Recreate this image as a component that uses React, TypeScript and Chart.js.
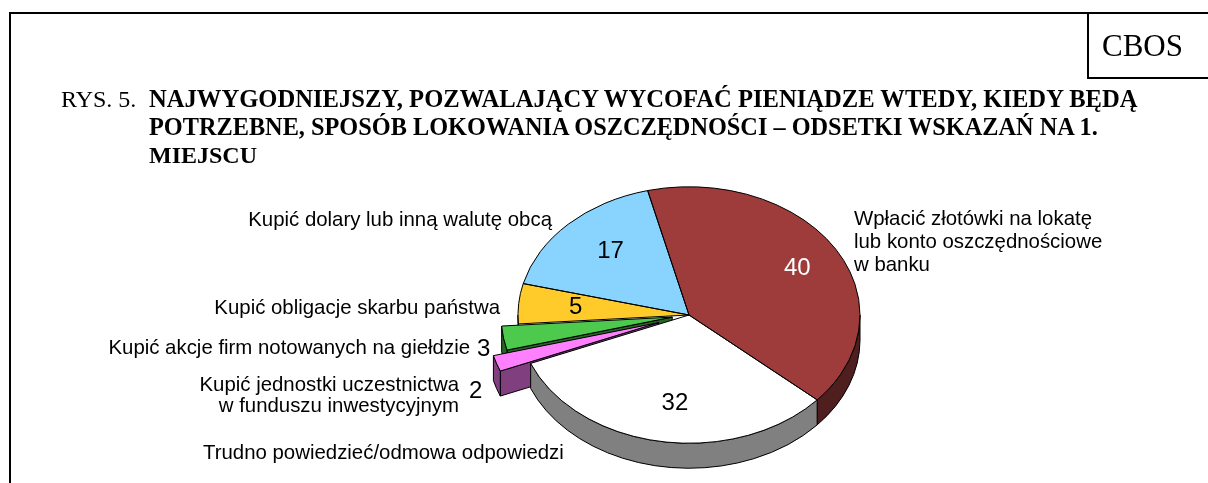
import React, { useEffect, useRef } from "react";
import { Chart, registerables } from "chart.js";

Chart.register(...registerables);

// ---------- data ----------
const CATEGORIES: string[][] = [
  ["Wpłacić złotówki na lokatę", "lub konto oszczędnościowe", "w banku"],
  ["Trudno powiedzieć/odmowa odpowiedzi"],
  ["Kupić jednostki uczestnictwa", "w funduszu inwestycyjnym"],
  ["Kupić akcje firm notowanych na giełdzie"],
  ["Kupić obligacje skarbu państwa"],
  ["Kupić dolary lub inną walutę obcą"],
];
const VALUES = [40, 32, 2, 3, 5, 17];
const TITLE_PREFIX = "RYS. 5.";
const TITLE_LINES = [
  "NAJWYGODNIEJSZY, POZWALAJĄCY WYCOFAĆ PIENIĄDZE WTEDY, KIEDY BĘDĄ",
  "POTRZEBNE, SPOSÓB LOKOWANIA OSZCZĘDNOŚCI – ODSETKI WSKAZAŃ NA 1.",
  "MIEJSCU",
];
const SOURCE = "CBOS";

// ---------- styles / layout ----------
const TOP_COLORS = ["#9E3C3B", "#FFFFFF", "#FF80FF", "#4DC94D", "#FFCB2B", "#88D4FE"];
const SIDE_COLORS = ["#4F1E1E", "#808080", "#804080", "#276527", "#806616", "#446A7F"];
const VALUE_COLORS = ["#FFFFFF", "#000000", "#000000", "#000000", "#000000", "#000000"];
const EXPLODE = [0, 0, 32, 17, 0, 0];
const TILT = 0.75;
const DEPTH = 25;
const VALUE_RADIUS = 0.7;
const VALUE_NUDGE_X = 6;
const SANS = '"Liberation Sans", Arial, sans-serif';
const SERIF = '"Liberation Serif", "Times New Roman", serif';

type LabelLayout = { x: number; y: number; align: CanvasTextAlign; lh: number; vx?: number; vy?: number };
const LABEL_LAYOUT: LabelLayout[] = [
  { x: 854, y: 219, align: "left", lh: 23 },
  { x: 203, y: 453, align: "left", lh: 22 },
  { x: 459, y: 385, align: "right", lh: 21, vx: 469, vy: 391 },
  { x: 470, y: 348, align: "right", lh: 22, vx: 477, vy: 349 },
  { x: 500, y: 308, align: "right", lh: 22 },
  { x: 552, y: 220, align: "right", lh: 22 },
];

const pie3d = {
  id: "pie3d",
  beforeDatasetsDraw(chart: any) {
    const ctx: CanvasRenderingContext2D = chart.ctx;
    const arcs = chart.getDatasetMeta(0).data as any[];
    const gs = arcs.map((el, i) => {
      const p = el.getProps(["x", "y", "startAngle", "endAngle", "outerRadius"], true);
      const mid = (p.startAngle + p.endAngle) / 2;
      const ex = EXPLODE[i] || 0;
      return {
        cx: p.x,
        cy: p.y,
        dx: Math.cos(mid) * ex,
        dy: Math.sin(mid) * ex,
        x: p.x + Math.cos(mid) * ex,
        y: p.y + Math.sin(mid) * ex,
        s: p.startAngle,
        e: p.endAngle,
        r: p.outerRadius,
        mid,
      };
    });
    if (!gs.length) return false;
    const cx = gs[0].cx;
    const cy = gs[0].cy;
    const d = DEPTH / TILT;
    const scaled = (fn: () => void) => {
      ctx.save();
      ctx.translate(cx, cy);
      ctx.scale(1, TILT);
      ctx.translate(-cx, -cy);
      fn();
      ctx.restore();
    };

    ctx.save();
    ctx.lineWidth = 1;
    ctx.strokeStyle = "#000000";
    ctx.lineJoin = "round";

    // sides, back to front
    const order = gs.map((_, i) => i).sort((a, b) => Math.sin(gs[a].mid) - Math.sin(gs[b].mid));
    for (const i of order) {
      const g = gs[i];
      const faces: any[] = [];
      if ((EXPLODE[i] || 0) > 0) {
        if (Math.cos(g.s) < 0) faces.push(["radial", g.s]);
        if (Math.cos(g.e) > 0) faces.push(["radial", g.e]);
      }
      for (let k = -1; k <= 1; k++) {
        const lo = Math.max(g.s, k * 2 * Math.PI);
        const hi = Math.min(g.e, k * 2 * Math.PI + Math.PI);
        if (hi > lo) faces.push(["band", lo, hi]);
      }
      for (const f of faces) {
        scaled(() => {
          ctx.beginPath();
          if (f[0] === "band") {
            const a = f[1];
            const b = f[2];
            ctx.arc(g.x, g.y, g.r, a, b);
            ctx.lineTo(g.x + g.r * Math.cos(b), g.y + g.r * Math.sin(b) + d);
            ctx.arc(g.x, g.y + d, g.r, b, a, true);
            ctx.closePath();
          } else {
            const t = f[1];
            ctx.moveTo(g.x, g.y);
            ctx.lineTo(g.x + g.r * Math.cos(t), g.y + g.r * Math.sin(t));
            ctx.lineTo(g.x + g.r * Math.cos(t), g.y + g.r * Math.sin(t) + d);
            ctx.lineTo(g.x, g.y + d);
            ctx.closePath();
          }
        });
        ctx.fillStyle = SIDE_COLORS[i];
        ctx.fill();
        ctx.stroke();
      }
    }

    // top faces drawn by the arc elements themselves
    arcs.forEach((el, i) => {
      scaled(() => {
        ctx.translate(gs[i].dx, gs[i].dy);
        el.draw(ctx);
      });
    });
    // outlines
    gs.forEach((g) => {
      scaled(() => {
        ctx.beginPath();
        ctx.moveTo(g.x, g.y);
        ctx.arc(g.x, g.y, g.r, g.s, g.e);
        ctx.closePath();
      });
      ctx.stroke();
    });

    // values
    ctx.font = `24px ${SANS}`;
    ctx.textBaseline = "middle";
    gs.forEach((g, i) => {
      const lay = LABEL_LAYOUT[i];
      ctx.fillStyle = VALUE_COLORS[i];
      if (lay && lay.vx !== undefined) {
        ctx.textAlign = "left";
        ctx.fillStyle = "#000000";
        ctx.fillText(String(VALUES[i]), lay.vx, lay.vy as number);
      } else {
        const px = g.x + g.r * VALUE_RADIUS * Math.cos(g.mid) + VALUE_NUDGE_X;
        const py = cy + (g.y + g.r * VALUE_RADIUS * Math.sin(g.mid) - cy) * TILT;
        ctx.textAlign = "center";
        ctx.fillText(String(VALUES[i]), px, py);
      }
    });

    // category labels
    ctx.font = `20.4px ${SANS}`;
    ctx.fillStyle = "#000000";
    CATEGORIES.forEach((lines, i) => {
      const lay = LABEL_LAYOUT[i];
      ctx.textAlign = lay.align;
      lines.forEach((ln, j) => ctx.fillText(ln, lay.x, lay.y + j * lay.lh));
    });

    ctx.restore();
    return false;
  },
};

export default function App() {
  const canvasRef = useRef<HTMLCanvasElement | null>(null);

  useEffect(() => {
    if (!canvasRef.current) return;
    const chart = new Chart(canvasRef.current, {
      type: "pie",
      data: {
        labels: CATEGORIES.map((c) => c.join(" ")),
        datasets: [
          {
            data: VALUES,
            backgroundColor: TOP_COLORS,
            borderWidth: 0,
            offset: 0,
          },
        ],
      },
      options: {
        responsive: false,
        animation: false,
        devicePixelRatio: 1,
        events: [],
        rotation: -14,
        radius: 171,
        layout: { padding: { left: 170, right: 0, top: 147, bottom: 0 } },
        plugins: {
          legend: { display: false },
          tooltip: { enabled: false },
          title: { display: false },
        },
      } as any,
      plugins: [pie3d as any],
    });
    return () => chart.destroy();
  }, []);

  const line = (s: React.CSSProperties) => (
    <div style={{ position: "absolute", background: "#000", ...s }} />
  );

  return (
    <div
      style={{
        position: "absolute",
        left: 0,
        top: 0,
        width: 1208,
        height: 483,
        background: "#fff",
        overflow: "hidden",
      }}
    >
      <canvas
        ref={canvasRef}
        width={1208}
        height={483}
        style={{ position: "absolute", left: 0, top: 0, width: 1208, height: 483 }}
      />
      {line({ left: 9, top: 12, width: 1199, height: 2 })}
      {line({ left: 9, top: 12, width: 2, height: 471 })}
      {line({ left: 1087, top: 12, width: 2, height: 67 })}
      {line({ left: 1087, top: 77, width: 121, height: 2 })}
      <div
        style={{
          position: "absolute",
          left: 1089,
          top: 14,
          width: 107,
          height: 63,
          display: "flex",
          alignItems: "center",
          justifyContent: "center",
          fontFamily: SERIF,
          fontSize: 31,
          color: "#000",
        }}
      >
        {SOURCE}
      </div>
      <div
        style={{
          position: "absolute",
          left: 61,
          top: 85,
          fontFamily: SERIF,
          fontSize: 24,
          lineHeight: "28px",
          color: "#000",
          whiteSpace: "nowrap",
        }}
      >
        <div>
          <span style={{ display: "inline-block", width: 88 }}>{TITLE_PREFIX}</span>
          <b style={{ fontSize: 24.6 }}>{TITLE_LINES[0]}</b>
        </div>
        <div style={{ paddingLeft: 88 }}>
          <b style={{ fontSize: 24.3 }}>{TITLE_LINES[1]}</b>
        </div>
        <div style={{ paddingLeft: 88 }}>
          <b>{TITLE_LINES[2]}</b>
        </div>
      </div>
    </div>
  );
}
